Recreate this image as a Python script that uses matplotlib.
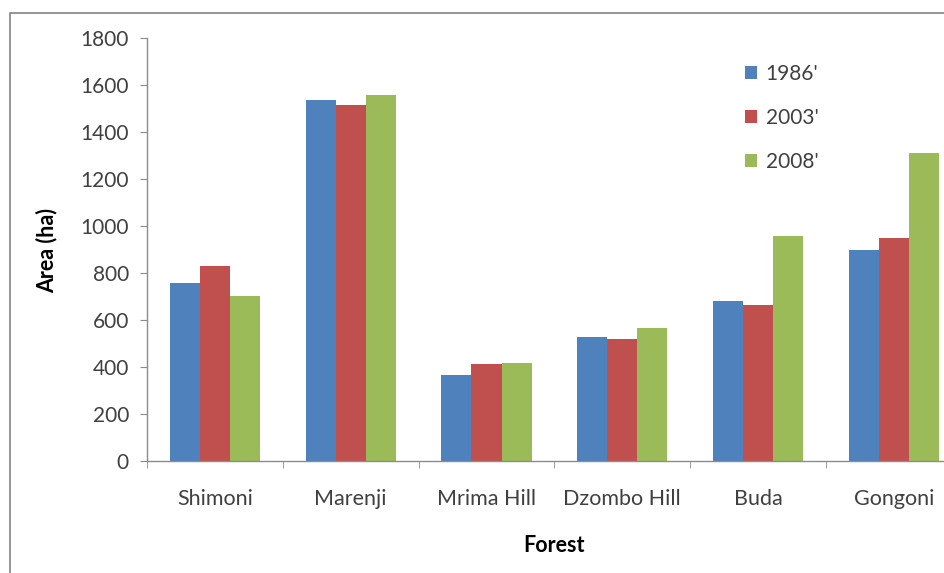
import matplotlib
matplotlib.use("Agg")
import matplotlib.pyplot as plt
import numpy as np
from matplotlib.lines import Line2D

forests = ["Shimoni", "Marenji", "Mrima Hill", "Dzombo Hill", "Buda", "Gongoni"]
years = ["1986'", "2003'", "2008'"]
area_1986 = [756, 1535, 365, 529, 681, 898]
area_2003 = [830, 1513, 411, 520, 665, 948]
area_2008 = [702, 1559, 416, 567, 959, 1312]
colors = ["#4f81bd", "#c0504d", "#9bbb59"]

plt.rcParams["font.family"] = ["Lato", "DejaVu Sans"]
text_color = "#404040"

W, H = 945, 573
fig = plt.figure(figsize=(W / 100, H / 100), dpi=100)
fig.patch.set_facecolor("white")
fig.patch.set_edgecolor("white")
fig.patch.set_linewidth(0)

# outer chart frame: only top and left edges are visible in the crop
fig.lines.append(Line2D([10 / W, 10 / W, 1.1], [-0.1, 1 - 13 / H, 1 - 13 / H],
                        transform=fig.transFigure, color="#8c8c8c", linewidth=1.3))

# axes spans past the right edge of the figure
left, bottom, top = 147, 461, 38
cat_w = 135.8
ax = fig.add_axes([left / W, 1 - bottom / H, 6 * cat_w / W, (bottom - top) / H])
ax.patch.set_visible(False)

x = np.arange(len(forests))
bw = 0.221
for i, (vals, lab) in enumerate(zip([area_1986, area_2003, area_2008], years)):
    ax.bar(x + (i - 1) * bw, vals, width=bw, color=colors[i], label=lab)

ax.set_xlim(-0.5, 5.5)
ax.set_ylim(0, 1800)
ax.set_yticks(range(0, 1801, 200))
ax.set_xticks(x)
ax.set_xticklabels(forests)
ax.set_xticks(np.arange(-0.5, 6.0, 1.0), minor=True)
ax.tick_params(axis="x", which="major", length=0, pad=20, labelsize=15.5, labelcolor=text_color)
ax.tick_params(axis="x", which="minor", length=5, color="#8c8c8c", direction="out")
ax.tick_params(axis="y", length=5, color="#8c8c8c", direction="out", pad=8,
               labelsize=15, labelcolor=text_color)

for s in ["top", "right"]:
    ax.spines[s].set_visible(False)
for s in ["left", "bottom"]:
    ax.spines[s].set_color("#8c8c8c")
    ax.spines[s].set_linewidth(1.0)

fig.text(47 / W, 1 - 250 / H, "Area (ha)", rotation=90, ha="center", va="center",
         fontsize=15.5, fontweight="bold", color="black")
fig.text(554 / W, 1 - 545 / H, "Forest", ha="center", va="center",
         fontsize=15.5, fontweight="bold", color="black")

leg = ax.legend(loc="upper left", bbox_to_anchor=(726 / W, 1 - 45 / H),
                bbox_transform=fig.transFigure, frameon=False, fontsize=15,
                handlelength=0.6, handleheight=0.6, handletextpad=0.4,
                labelspacing=1.15)
for t in leg.get_texts():
    t.set_color(text_color)

fig.savefig("out.png", dpi=100, facecolor="white")
